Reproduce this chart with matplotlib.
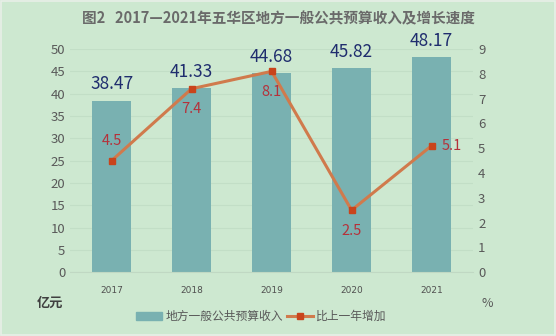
import matplotlib
matplotlib.use("Agg")
import matplotlib.pyplot as plt
from matplotlib.lines import Line2D
from matplotlib.patches import Patch, Rectangle

plt.rcParams['font.family'] = ['Noto Sans CJK SC', 'DejaVu Sans']

years = ["2017", "2018", "2019", "2020", "2021"]
revenue = [38.47, 41.33, 44.68, 45.82, 48.17]
growth = [4.5, 7.4, 8.1, 2.5, 5.1]

bg = "#cde8d0"
bar_c = "#79b1b1"
line_c = "#d07a4c"
mark_c = "#c9441c"
tick_c = "#595959"

fig = plt.figure(figsize=(5.56, 3.36), dpi=100, facecolor=bg)
fig.patches.append(Rectangle((0.002, 0.003), 0.996, 0.994, transform=fig.transFigure,
                             fill=False, ec="#e8efe8", lw=1.2))
ax = fig.add_axes([0.126, 0.190, 0.725, 0.664], facecolor=bg)
ax2 = ax.twinx()

x = range(len(years))
ax.bar(x, revenue, width=0.48, color=bar_c, zorder=2)
for i, v in enumerate(revenue):
    ax.text(i, v + 1.6, f"{v:.2f}", ha="center", va="bottom", fontsize=12.5, color="#1f2d6e")

ax.set_ylim(0, 50)
ax.set_yticks(range(0, 51, 5))
ax.set_xlim(-0.52, 4.52)
ax.set_xticks(list(x))
ax.tick_params(axis="both", length=0, colors=tick_c)
ax.tick_params(axis="y", labelsize=9.5)
ax.tick_params(axis="x", pad=10)
ax.set_xticklabels(years, fontsize=6.5, color="#505050", family="DejaVu Sans")
ax.grid(axis="y", color="#c2dec6", lw=0.8, zorder=0)
ax.set_axisbelow(True)
for s in ax.spines.values():
    s.set_visible(False)
ax.spines["bottom"].set_visible(True)
ax.spines["bottom"].set_color("#c0d8c3")

ax2.plot(x, growth, color=line_c, lw=2.2, marker="s", ms=5, mfc=mark_c, mec=mark_c, zorder=3)
ax2.set_ylim(0, 9)
ax2.set_yticks(range(0, 10))
ax2.tick_params(axis="y", length=0, colors=tick_c, labelsize=9.5)
for s in ax2.spines.values():
    s.set_visible(False)

offsets = [(0, 0.5, "bottom"), (0, -0.55, "top"), (0, -0.55, "top"), (0, -0.55, "top"), (0.12, 0, "center")]
for i, (v, (dx, dy, va)) in enumerate(zip(growth, offsets)):
    ha = "left" if dx > 0 else "center"
    ax2.text(i + dx, v + dy, f"{v}", ha=ha, va=va, fontsize=10.5, color="#b5313a")

fig.text(0.5, 0.945, "图2   2017—2021年五华区地方一般公共预算收入及增长速度", ha="center", va="center",
         fontsize=10.5, color="#6a6a6a", fontweight="bold")
fig.text(0.09, 0.098, "亿元", ha="center", va="center", fontsize=9.5, color="#404040", fontweight="bold")
fig.text(0.877, 0.098, "%", ha="center", va="center", fontsize=9, color=tick_c)

handles = [Patch(color=bar_c), Line2D([], [], color=line_c, lw=2.2, marker="s", ms=5, mfc=mark_c, mec=mark_c)]
fig.legend(handles, ["地方一般公共预算收入", "比上一年增加"], loc="center", bbox_to_anchor=(0.47, 0.058),
           ncol=2, frameon=False, fontsize=8.5, handlelength=2.2, columnspacing=0.3, handletextpad=0.3,
           labelcolor="#595959")

fig.savefig("out.png", dpi=100, facecolor=bg)
